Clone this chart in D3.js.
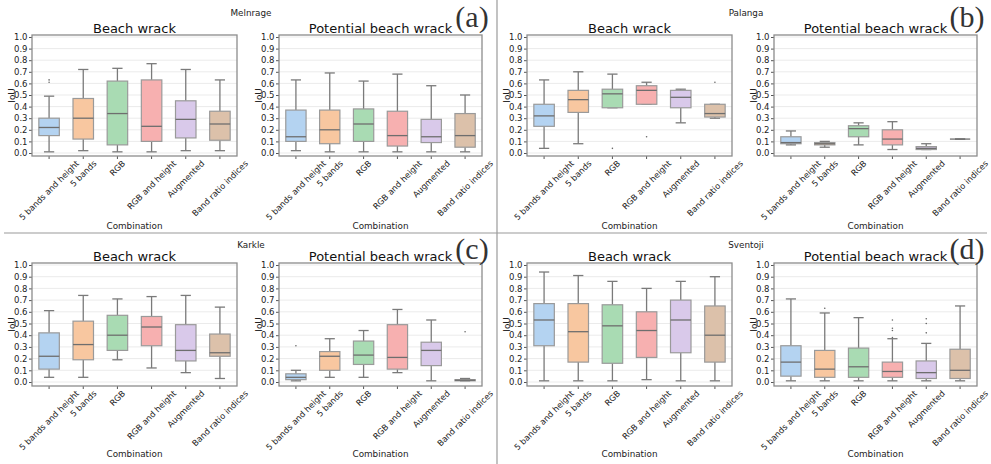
<!DOCTYPE html>
<html>
<head>
<meta charset="utf-8">
<script src="https://cdn.jsdelivr.net/npm/d3@7"></script>
<style>
  html, body { margin: 0; padding: 0; background: #fff; }
  svg { display: block; font-family: "DejaVu Sans", sans-serif; }
</style>
</head>
<body>
<svg id="chart" width="991" height="464"></svg>
<script>
// Combinations compared in every subplot
const categories = ["5 bands and height", "5 bands", "RGB", "RGB and height", "Augmented", "Band ratio indices"];
const yTicks = [0, 0.1, 0.2, 0.3, 0.4, 0.5, 0.6, 0.7, 0.8, 0.9, 1.0];
const boxColors = ["#b4d3f1", "#f8c7a0", "#a9dbb3", "#f7b0b0", "#d9c9ea", "#dcc1aa"];

// Box statistics per combination: [lower whisker, Q1, median, Q3, upper whisker]
const melnrageBeach = [[0.01, 0.15, 0.22, 0.30, 0.49], [0.02, 0.12, 0.30, 0.47, 0.72], [0.01, 0.07, 0.34, 0.62, 0.73],
                       [0.01, 0.10, 0.23, 0.63, 0.77], [0.02, 0.13, 0.29, 0.45, 0.72], [0.02, 0.11, 0.25, 0.36, 0.63]];
const melnrageBeachOut = [[0.61, 0.63], [], [], [], [], []];
const melnragePotential = [[0.02, 0.10, 0.14, 0.37, 0.63], [0.01, 0.08, 0.20, 0.37, 0.69], [0.01, 0.10, 0.25, 0.38, 0.62],
                           [0.01, 0.06, 0.15, 0.36, 0.68], [0.01, 0.09, 0.14, 0.29, 0.58], [0.01, 0.05, 0.15, 0.34, 0.50]];
const melnragePotentialOut = [[], [], [], [], [], []];

const palangaBeach = [[0.04, 0.23, 0.32, 0.42, 0.63], [0.08, 0.35, 0.46, 0.54, 0.70], [0.39, 0.39, 0.51, 0.55, 0.68],
                      [0.42, 0.42, 0.54, 0.58, 0.61], [0.26, 0.39, 0.48, 0.54, 0.55], [0.30, 0.31, 0.34, 0.42, 0.42]];
const palangaBeachOut = [[], [], [0.04], [0.14], [], [0.61]];
const palangaPotential = [[0.07, 0.08, 0.09, 0.14, 0.19], [0.05, 0.07, 0.08, 0.09, 0.10], [0.07, 0.14, 0.21, 0.235, 0.26],
                          [0.03, 0.07, 0.12, 0.20, 0.27], [0.03, 0.03, 0.04, 0.055, 0.08], [0.12, 0.12, 0.12, 0.12, 0.12]];
const palangaPotentialOut = [[], [], [], [], [], []];

const karkleBeach = [[0.04, 0.11, 0.22, 0.42, 0.61], [0.04, 0.19, 0.32, 0.52, 0.74], [0.19, 0.27, 0.40, 0.57, 0.71],
                     [0.12, 0.31, 0.47, 0.56, 0.73], [0.08, 0.18, 0.27, 0.49, 0.74], [0.03, 0.22, 0.25, 0.41, 0.64]];
const karkleBeachOut = [[], [], [], [], [], []];
const karklePotential = [[0.01, 0.02, 0.04, 0.07, 0.10], [0.04, 0.10, 0.22, 0.26, 0.37], [0.04, 0.15, 0.23, 0.35, 0.44],
                         [0.08, 0.11, 0.21, 0.49, 0.62], [0.01, 0.14, 0.27, 0.34, 0.53], [0.01, 0.01, 0.015, 0.02, 0.03]];
const karklePotentialOut = [[0.31], [], [], [], [], [0.43]];

const sventojiBeach = [[0.01, 0.31, 0.53, 0.67, 0.94], [0.01, 0.17, 0.43, 0.67, 0.91], [0.01, 0.16, 0.48, 0.66, 0.86],
                       [0.02, 0.21, 0.44, 0.60, 0.80], [0.01, 0.25, 0.53, 0.70, 0.86], [0.01, 0.17, 0.40, 0.65, 0.90]];
const sventojiBeachOut = [[], [], [], [], [], []];
const sventojiPotential = [[0.01, 0.05, 0.17, 0.31, 0.71], [0.01, 0.04, 0.11, 0.27, 0.59], [0.01, 0.04, 0.13, 0.29, 0.55],
                           [0.01, 0.04, 0.09, 0.17, 0.37], [0.01, 0.03, 0.08, 0.18, 0.33], [0.01, 0.03, 0.10, 0.28, 0.65]];
const sventojiPotentialOut = [[], [0.63], [], [0.38, 0.44, 0.46, 0.53], [0.42, 0.50, 0.54], []];

const sites = [
  { name: "Melnrage", tag: "(a)", beach: [melnrageBeach, melnrageBeachOut], potential: [melnragePotential, melnragePotentialOut] },
  { name: "Palanga",  tag: "(b)", beach: [palangaBeach, palangaBeachOut],   potential: [palangaPotential, palangaPotentialOut] },
  { name: "Karkle",   tag: "(c)", beach: [karkleBeach, karkleBeachOut],     potential: [karklePotential, karklePotentialOut] },
  { name: "Sventoji", tag: "(d)", beach: [sventojiBeach, sventojiBeachOut], potential: [sventojiPotential, sventojiPotentialOut] }
];

const svg = d3.select("#chart");
const lineCol = "#7a7a7a";

// Panel geometry: two columns of sites, two rows
const colX = [0, 495];
const rowScale = [{ top: 37, zero: 153, frameTop: 35, frameBot: 156, xlabel: 229 },
                  { top: 265, zero: 382, frameTop: 263, frameBot: 386, xlabel: 457 }];

function drawSubplot(g, x0, x1, row, title, stats, outliers) {
  const rs = rowScale[row];
  const y = d3.scaleLinear().domain([0, 1]).range([rs.zero, rs.top]);
  const x = d3.scaleBand().domain(categories).range([x0, x1]).padding(0);
  const bw = x.bandwidth() * 0.6;

  // horizontal grid
  g.append("g").selectAll("line").data(yTicks).join("line")
    .attr("x1", x0).attr("x2", x1)
    .attr("y1", d => y(d)).attr("y2", d => y(d))
    .attr("stroke", "#ebebeb").attr("stroke-width", 1);

  // y axis
  const ya = g.append("g").attr("transform", `translate(${x0},0)`)
    .call(d3.axisLeft(y).tickValues(yTicks).tickFormat(d3.format(".1f")).tickSize(3).tickPadding(1.5));
  ya.select(".domain").remove();
  ya.selectAll(".tick line").attr("stroke", "#555");
  ya.selectAll(".tick text").attr("font-size", 8.5).attr("fill", "#222").attr("font-family", "DejaVu Sans");

  // x axis ticks
  const xa = g.append("g").attr("transform", `translate(0,${rs.frameBot})`)
    .call(d3.axisBottom(x).tickSize(3).tickFormat(""));
  xa.select(".domain").remove();
  xa.selectAll(".tick line").attr("stroke", "#555");

  // rotated category labels, centred on their tick
  const labels = g.append("g").selectAll("text").data(categories).join("text")
    .attr("font-size", 8.3).attr("fill", "#222").attr("text-anchor", "middle")
    .attr("dominant-baseline", "central")
    .text(d => d);
  labels.each(function (d) {
    const len = this.getComputedTextLength();
    const h = 8;
    const half = (len + h) * Math.SQRT1_2 / 2;
    const cx = x(d) + x.bandwidth() / 2;
    const cy = rs.frameBot + 3 + half;
    d3.select(this).attr("transform", `translate(${cx},${cy}) rotate(-45)`);
  });

  // boxes
  const boxes = g.append("g").selectAll("g").data(stats).join("g")
    .attr("transform", (d, i) => `translate(${x(categories[i]) + x.bandwidth() / 2},0)`);
  boxes.append("line").attr("x1", 0).attr("x2", 0)
    .attr("y1", d => y(d[0])).attr("y2", d => y(d[1])).attr("stroke", lineCol).attr("stroke-width", 1.3);
  boxes.append("line").attr("x1", 0).attr("x2", 0)
    .attr("y1", d => y(d[3])).attr("y2", d => y(d[4])).attr("stroke", lineCol).attr("stroke-width", 1.3);
  boxes.append("line").attr("x1", -bw / 4).attr("x2", bw / 4)
    .attr("y1", d => y(d[0])).attr("y2", d => y(d[0])).attr("stroke", lineCol).attr("stroke-width", 1.3);
  boxes.append("line").attr("x1", -bw / 4).attr("x2", bw / 4)
    .attr("y1", d => y(d[4])).attr("y2", d => y(d[4])).attr("stroke", lineCol).attr("stroke-width", 1.3);
  boxes.append("rect")
    .attr("x", -bw / 2).attr("width", bw)
    .attr("y", d => y(d[3])).attr("height", d => Math.max(0, y(d[1]) - y(d[3])))
    .attr("fill", (d, i) => boxColors[i]).attr("stroke", "#9a9a9a").attr("stroke-width", 1.2);
  boxes.append("line").attr("x1", -bw / 2).attr("x2", bw / 2)
    .attr("y1", d => y(d[2])).attr("y2", d => y(d[2])).attr("stroke", "#6e6e6e").attr("stroke-width", 1.3);

  // outliers
  boxes.each(function (d, i) {
    d3.select(this).selectAll("circle").data(outliers[i]).join("circle")
      .attr("cx", 0).attr("cy", v => y(v)).attr("r", 0.8).attr("fill", "#666");
  });

  // frame
  g.append("rect").attr("x", x0).attr("y", rs.frameTop).attr("width", x1 - x0)
    .attr("height", rs.frameBot - rs.frameTop)
    .attr("fill", "none").attr("stroke", "#8c8c8c").attr("stroke-width", 1.3);

  // title and axis labels
  g.append("text").attr("x", (x0 + x1) / 2).attr("y", rs.frameTop - 2.5)
    .attr("text-anchor", "middle").attr("font-size", 13).attr("fill", "#111").text(title);
  g.append("text").attr("x", (x0 + x1) / 2).attr("y", rs.xlabel)
    .attr("text-anchor", "middle").attr("font-size", 8.8).attr("fill", "#222").text("Combination");
  g.append("text").attr("transform", `translate(${x0 - 17.5},${(rs.frameTop + rs.frameBot) / 2}) rotate(-90)`)
    .attr("text-anchor", "middle").attr("font-size", 8.8).attr("fill", "#222").text("IoU");
}

sites.forEach((s, k) => {
  const col = k % 2, row = Math.floor(k / 2);
  const ox = colX[col];
  const g = svg.append("g");
  drawSubplot(g, ox + 32, ox + 237, row, "Beach wrack", s.beach[0], s.beach[1]);
  drawSubplot(g, ox + 279, ox + 482, row, "Potential beach wrack", s.potential[0], s.potential[1]);
  const top = row === 0 ? 0 : 232;
  g.append("text").attr("x", ox + 251).attr("y", top + 16)
    .attr("text-anchor", "middle").attr("font-size", 8.8).attr("fill", "#222").text(s.name);
  g.append("text").attr("x", ox + 472).attr("y", top + 27)
    .attr("text-anchor", "middle").attr("font-size", 30)
    .attr("font-family", "'Liberation Serif', 'DejaVu Serif', serif").attr("fill", "#333").text(s.tag);
});

// panel separators
svg.append("line").attr("x1", 4).attr("x2", 987).attr("y1", 233).attr("y2", 233)
  .attr("stroke", "#9a9a9a").attr("stroke-width", 1.2);
svg.append("line").attr("x1", 497).attr("x2", 497).attr("y1", 0).attr("y2", 464)
  .attr("stroke", "#9a9a9a").attr("stroke-width", 1.2);
</script>
</body>
</html>
